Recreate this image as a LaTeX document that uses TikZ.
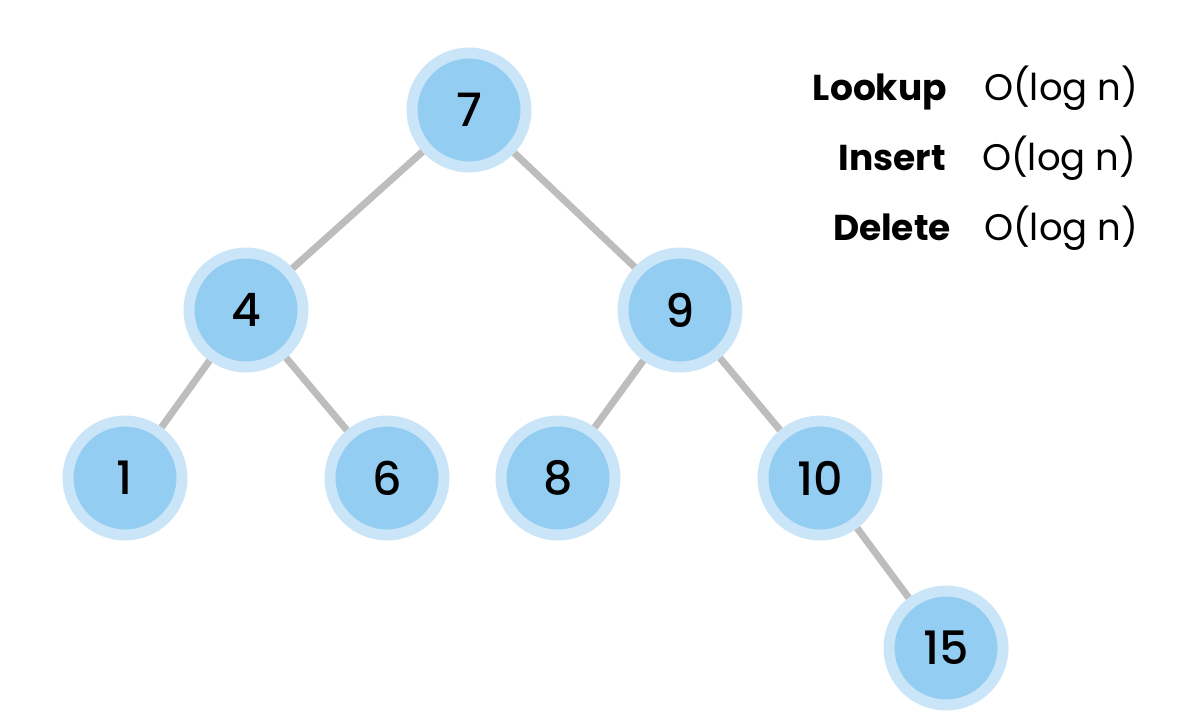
\documentclass[tikz,border=0pt]{standalone}
\usepackage{fontspec}
\setmainfont{Poppins}
\newfontfamily\keyfont{Poppins Medium}
\definecolor{ringblue}{HTML}{CAE5F8}
\definecolor{keyblue}{HTML}{93CDF2}
\definecolor{edgegray}{HTML}{BDBDBD}
\tikzset{
  key/.style={circle, fill=keyblue, draw=ringblue, line width=5.5pt,
    minimum size=57pt, inner sep=0pt, font=\keyfont\fontsize{23}{26}\selectfont},
  edge/.style={draw=edgegray, line width=3.5pt},
  oplabel/.style={anchor=base east, font=\fontsize{18}{20}\selectfont\bfseries},
  opcost/.style={anchor=base west, font=\fontsize{18.5}{20}\selectfont}
}
\begin{document}
\begin{tikzpicture}
   [x=0.5pt, y=-0.5pt]
   \useasboundingbox (0,0) rectangle (1200,723);
   \node[key] (k7) at (469,110) {7};
   \node[key] (k4) at (246,310) {4};
   \node[key] (k9) at (680,310) {9};
   \node[key] (k1) at (125,478) {1};
   \node[key] (k6) at (387,478) {6};
   \node[key] (k8) at (558,478) {8};
   \node[key] (k10) at (820,478) {10};
   \node[key] (k15) at (946,648) {15};

   \draw[edge] (k7) -- (k4);
   \draw[edge] (k7) -- (k9);
   \draw[edge] (k4) -- (k1);
   \draw[edge] (k4) -- (k6);
   \draw[edge] (k9) -- (k8);
   \draw[edge] (k9) -- (k10);
   \draw[edge] (k10) -- (k15);

   \node[oplabel] (lookup) at (954,100) {Lookup};
   \node[oplabel] (insert) at (953,170) {Insert};
   \node[oplabel] (delete) at (958,240) {Delete};
   \node[opcost] (clookup) at (977,100) {O(log n)};
   \node[opcost] (cinsert) at (975,170) {O(log n)};
   \node[opcost] (cdelete) at (977,240) {O(log n)};
\end{tikzpicture}
\end{document}
